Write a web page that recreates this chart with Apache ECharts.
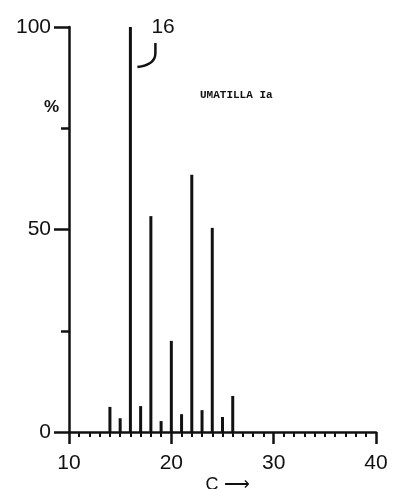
<!DOCTYPE html>
<html>
<head>
<meta charset="utf-8">
<script src="https://cdn.jsdelivr.net/npm/echarts@6/dist/echarts.min.js"></script>
<style>
  html, body { margin: 0; padding: 0; background: #fff; }
  #chart { width: 402px; height: 489px; }
</style>
</head>
<body>
<div id="chart"></div>
<script>
// Carbon number distribution (percent of maximum), Umatilla Ia
const carbonNumbers = [14, 15, 16, 17, 18, 19, 20, 21, 22, 23, 24, 25, 26];
const percentValues = [6.2, 3.4, 100, 6.4, 53.3, 2.7, 22.5, 4.4, 63.5, 5.4, 50.4, 3.7, 8.9];
const xTicks = [10, 20, 30, 40];
const yTicks = [0, 50, 100];
const sampleName = 'UMATILLA Ia';
const peakLabel = '16';

const ink = '#111';
const font = 'Liberation Sans';

const chart = echarts.init(document.getElementById('chart'), null, { renderer: 'canvas' });

const option = {
  animation: false,
  backgroundColor: '#fff',
  grid: { left: 69, right: 26, top: 27, bottom: 57, containLabel: false, outerBoundsMode: 'none' },
  xAxis: {
    type: 'value',
    min: xTicks[0],
    max: xTicks[xTicks.length - 1],
    interval: 10,
    axisLine: { show: true, onZero: false, lineStyle: { color: ink, width: 2.5 } },
    axisTick: { show: true, length: 12, lineStyle: { color: ink, width: 2.5 } },
    minorTick: { show: true, splitNumber: 10, length: 5, lineStyle: { color: ink, width: 2 } },
    splitLine: { show: false },
    axisLabel: { color: ink, fontFamily: font, fontSize: 21, margin: 21 },
    name: 'C \u27F6',
    nameLocation: 'middle',
    nameGap: 44,
    nameMoveOverlap: false,
    nameTextStyle: { color: ink, fontFamily: font, fontSize: 18, padding: [0, 0, 0, 10] }
  },
  yAxis: {
    type: 'value',
    min: yTicks[0],
    max: yTicks[yTicks.length - 1],
    interval: 50,
    axisLine: { show: true, lineStyle: { color: ink, width: 2.5 } },
    axisTick: { show: true, length: 15, lineStyle: { color: ink, width: 2.5 } },
    minorTick: { show: true, splitNumber: 2, length: 8, lineStyle: { color: ink, width: 2.5 } },
    splitLine: { show: false },
    axisLabel: { color: ink, fontFamily: font, fontSize: 21, margin: 18 }
  },
  series: [{
    type: 'bar',
    barWidth: 3,
    itemStyle: { color: ink },
    data: carbonNumbers.map((c, i) => [c, percentValues[i]])
  }]
};

chart.setOption(option);

// Annotations placed from the chart's own coordinate system
const peakIndex = percentValues.indexOf(Math.max(...percentValues));
const peakTop = chart.convertToPixel({ gridIndex: 0 }, [carbonNumbers[peakIndex], percentValues[peakIndex]]);
const yAxisTop = chart.convertToPixel({ gridIndex: 0 }, [xTicks[0], 80]);
const nameSpot = chart.convertToPixel({ gridIndex: 0 }, [22.8, 83]);
const px = peakTop[0], py = peakTop[1];

chart.setOption({
  graphic: [
    {
      type: 'text',
      x: px + 21,
      y: py - 10,
      style: { text: peakLabel, fill: ink, font: '21px ' + font }
    },
    {
      type: 'line',
      shape: { x1: px + 25, y1: py + 16, x2: px + 25, y2: py + 26 },
      style: { stroke: ink, lineWidth: 2.5 }
    },
    {
      type: 'bezierCurve',
      shape: { x1: px + 25, y1: py + 26, cpx1: px + 25, cpy1: py + 38, x2: px + 7, y2: py + 40 },
      style: { stroke: ink, fill: null, lineWidth: 2.5 }
    },
    {
      type: 'text',
      x: yAxisTop[0] - 25,
      y: yAxisTop[1] - 9,
      style: { text: '%', fill: ink, font: 'bold 17px ' + font }
    },
    {
      type: 'text',
      x: nameSpot[0],
      y: nameSpot[1] - 6,
      style: { text: sampleName, fill: ink, font: 'bold 11px "Liberation Mono"' }
    }
  ]
});
</script>
</body>
</html>
